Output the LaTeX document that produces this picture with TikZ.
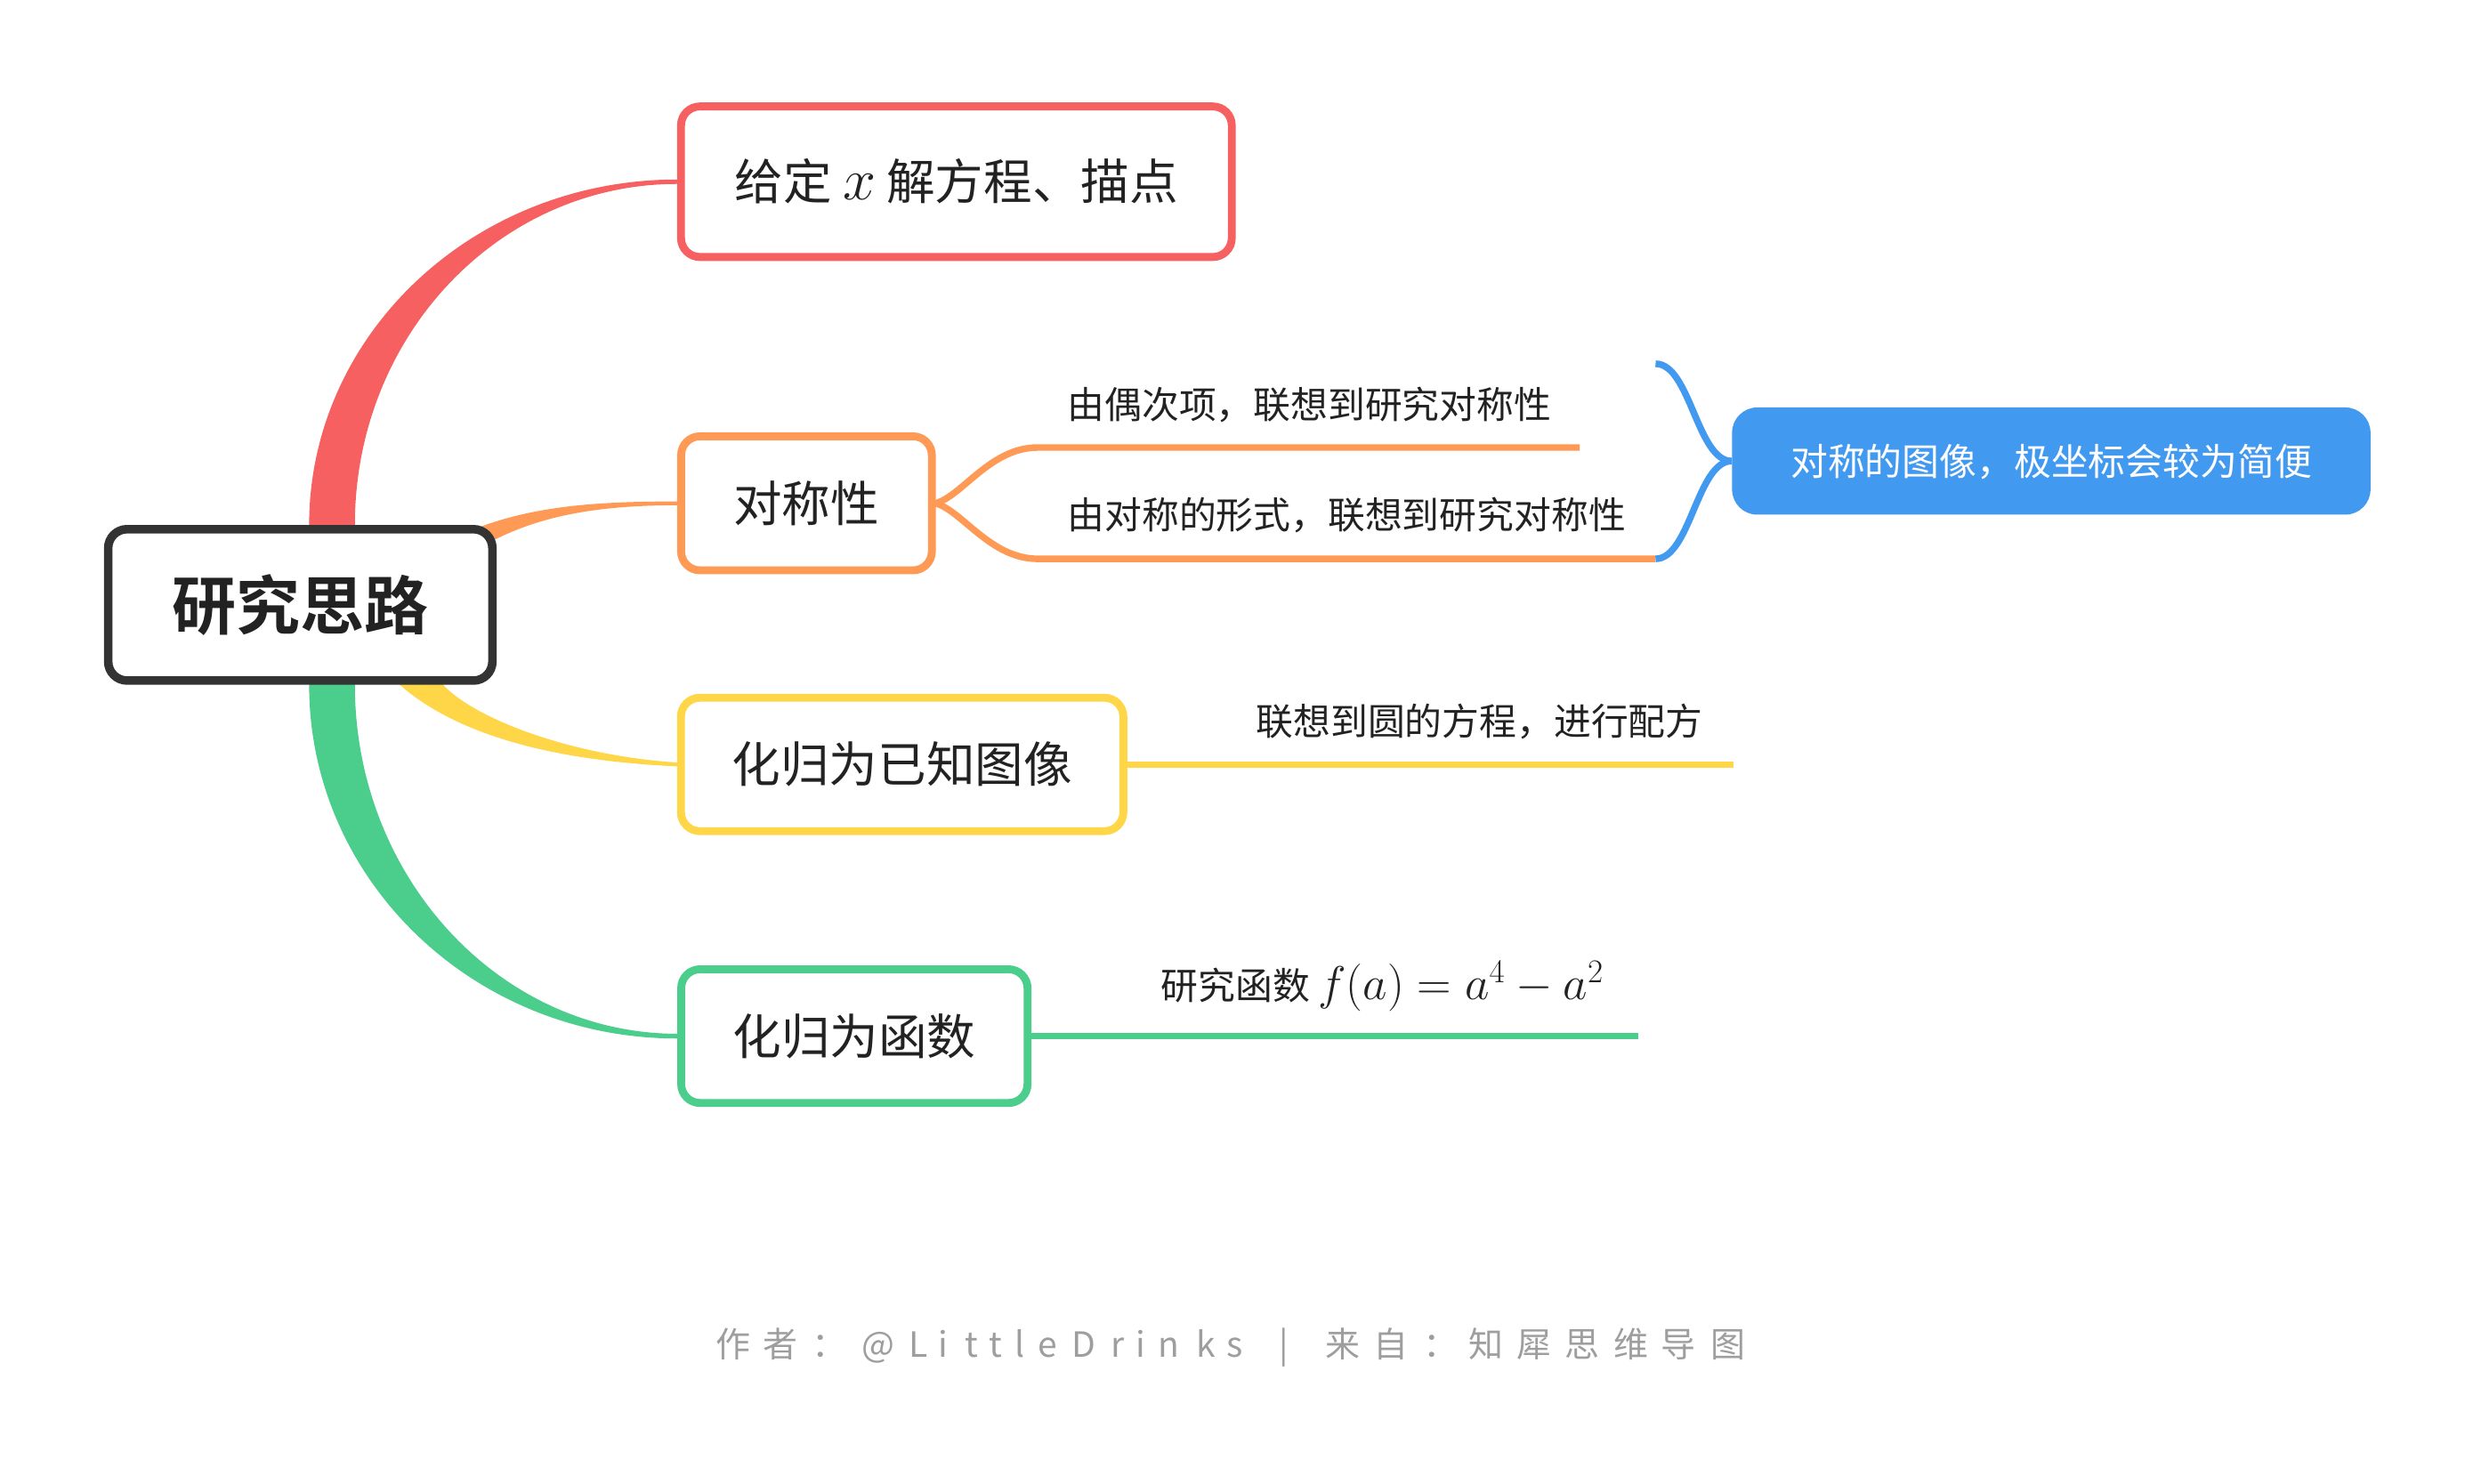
\RequirePackage{fix-cm}
\documentclass[tikz,border=0pt]{standalone}
\usepackage[no-math]{fontspec}
\setmainfont{Noto Sans CJK SC}
\newfontfamily\rootfont{Noto Sans CJK SC Bold}
\usetikzlibrary{calc}
\definecolor{cRed}{HTML}{F76060}
\definecolor{cOrange}{HTML}{FF9A56}
\definecolor{cYellow}{HTML}{FFD648}
\definecolor{cGreen}{HTML}{4BCD8C}
\definecolor{cBlue}{HTML}{4299F0}
\definecolor{cDark}{HTML}{333333}
\definecolor{cText}{HTML}{222222}
\definecolor{cFoot}{HTML}{9E9E9E}
\newcommand\fcc[2]{\rlap{\kern#1pt\makebox[0pt][c]{#2}}}
\newcommand\fll[2]{\rlap{\kern#1pt\relax#2}}
\pgfdeclarelayer{bg}
\pgfsetlayers{bg,main}
\begin{document}
\begin{tikzpicture}[x=1pt,y=-1pt,
  mainbox/.style={draw, line width=5pt, rounded corners=12pt, fill=white, inner sep=0pt,
    align=center, text=cText, font=\fontsize{30.8}{36}\selectfont,
    text height=27.1pt, text depth=3.7pt},
  lbl/.style={anchor=west, inner sep=0pt, text=cText, font=\fontsize{23.6}{28}\selectfont,
    text height=20.8pt, text depth=2.8pt},
  subline/.style={line width=4.2pt}
]
\useasboundingbox (0,0) rectangle (1568,941);

% ---------- nodes ----------
\node[mainbox, draw=cDark, line width=5.4pt, minimum width=243.6pt, minimum height=96pt,
  font=\rootfont\fontsize{40.6}{46}\selectfont, text height=35.7pt, text depth=4.9pt]
  (root) at (190.4,383.6) {研究思路};
\node[mainbox, draw=cRed, minimum width=349.2pt, minimum height=95.5pt]
  (n1) at (606.4,115.25) {给定 {\fontsize{37.5}{40}\selectfont$x$} 解方程、描点};
\node[mainbox, draw=cOrange, minimum width=159pt, minimum height=85pt]
  (n2) at (511.35,319.2) {对称性};
\node[mainbox, draw=cYellow, minimum width=280.5pt, minimum height=84.6pt]
  (n3) at (572,484.8) {化归为已知图像};
\node[mainbox, draw=cGreen, minimum width=219.6pt, minimum height=84.8pt]
  (n4) at (541.7,657.1) {化归为函数};
\node[fill=cBlue, rounded corners=16pt, minimum width=404.8pt, minimum height=68pt,
  inner sep=0pt, text=white, font=\fontsize{23.6}{28}\selectfont,
  text height=20.8pt, text depth=2.8pt]
  (blue) at (1300.6,292.4) {对称的图像，极坐标会较为简便};

\node[lbl] (l1) at (676.6,256.5) {由偶次项，联想到研究对称性};
\node[lbl] (l2) at (676.6,326.2) {由对称的形式，联想到研究对称性};
\node[lbl] (l3) at (796.3,457.5) {联想到圆的方程，进行配方};
\node[lbl] (l4) at (736.0,625) {研究函数 {\fontsize{30.1}{34}\selectfont$f(a)=a^4-a^2$}};

\node[anchor=west, inner sep=0pt, text=cFoot, font=\fontsize{22}{26}\selectfont,
  text height=19.4pt, text depth=2.6pt]
  (foot) at (440,852.5) {\fcc{24.6}{作}\fcc{54.9}{者}\fll{74.6}{：}\fcc{116.4}{@}%
  \fcc{142.4}{L}\fcc{158}{i}\fcc{175.8}{t}\fcc{190.9}{t}\fcc{206.6}{l}\fcc{223.8}{e}%
  \fcc{247}{D}\fcc{268.6}{r}\fcc{283.2}{i}\fcc{301}{n}\fcc{324.2}{k}\fcc{343}{s}%
  \fcc{373.8}{|}\fcc{411}{来}\fcc{441.8}{自}\fll{462.5}{：}%
  \fcc{502.3}{知}\fcc{532.5}{犀}\fcc{563.2}{思}\fcc{594}{维}\fcc{623.7}{导}\fcc{655.5}{图}\kern680pt};

\coordinate (o1s) at (658,283.8);
\coordinate (o1e) at (1001.5,283.8);
\coordinate (o2s) at (658,354.4);
\coordinate (o2e) at (1049.7,354.4);
\coordinate (b1) at (1049.7,230.7);
\coordinate (yend) at (1099.2,484.6);
\coordinate (gend) at (1038.7,657);

% ---------- connectors ----------
\begin{pgfonlayer}{bg}
\fill[white] (0,0) rectangle (1568,941);
% red band
\fill[cRed] (196,350) -- (196,333) .. controls (196,212) and (300.3,113.85) ..
  ($(n1.west)+(0,-1.4)$) -- ($(n1.west)+(0,1.4)$) .. controls (316.3,116.65) and (225,213) ..
  (225,333) -- (225,350) -- cycle;
% orange band
\fill[cOrange] (290,340) .. controls (330,322) and (370,318) ..
  ($(n2.west)+(0,-1.2)$) -- ($(n2.west)+(0,1.2)$) .. controls (375,320.5) and (335,328) ..
  (300,350) -- cycle;
% yellow band
\fill[cYellow] (245,420) -- (253.5,434.3) .. controls (285,462) and (340,482) ..
  ($(n3.west)+(0,1.2)$) -- ($(n3.west)+(0,-1.2)$) .. controls (360,479) and (300,455) ..
  (281,434.3) -- (272,420) -- cycle;
% green band
\fill[cGreen] (196,420) -- (196,434.3) .. controls (196,558.3) and (300.4,658.6) ..
  ($(n4.west)+(0,1.5)$) -- ($(n4.west)+(0,-1.5)$) .. controls (316.8,655.6) and (225,556.3) ..
  (225,434.3) -- (225,420) -- cycle;

% orange sub-branches
\draw[cOrange, subline] ($(n2.east)+(-3,0)$) -- (n2.east) .. controls +(17,-5) and +(-30,0) .. (o1s) -- (o1e);
\draw[cOrange, subline] ($(n2.east)+(-3,0)$) -- (n2.east) .. controls +(17,5) and +(-30,0) .. (o2s) -- (o2e);
% blue brace
\draw[cBlue, subline] (b1) .. controls +(22,0) and +(-22,0) .. (blue.west);
\draw[cBlue, subline] (o2e) .. controls +(22,0) and +(-22,0) .. (blue.west);
% yellow and green lines
\draw[cYellow, subline] ($(n3.east)+(-3,0)$) -- (n3.east -| yend);
\draw[cGreen, subline] ($(n4.east)+(-3,0)$) -- (n4.east -| gend);
\end{pgfonlayer}
\end{tikzpicture}
\end{document}
